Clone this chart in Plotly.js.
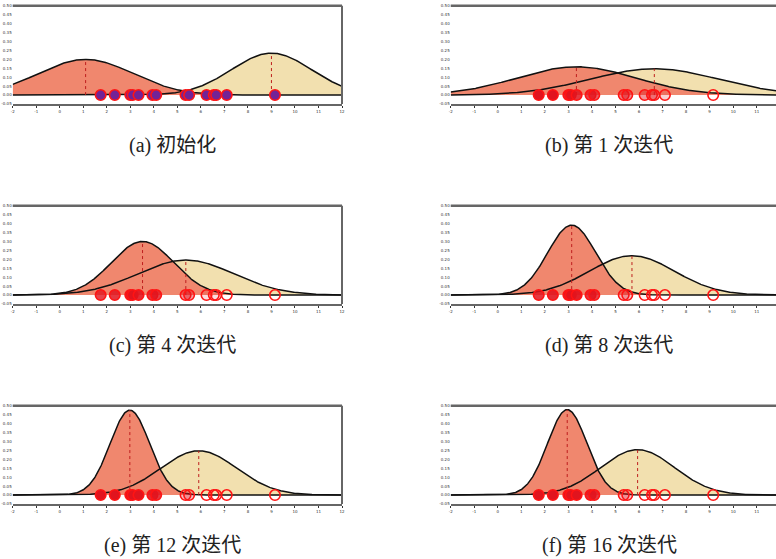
<!DOCTYPE html>
<html>
<head>
<meta charset="utf-8">
<script src="https://cdn.plot.ly/plotly-3.0.1.min.js"></script>
<style>html,body{margin:0;padding:0;background:#fff;}#chart{width:776px;height:559px;}</style>
</head>
<body>
<div id="chart"></div>
<script>
// ---- data ----
const pointsX = [1.74, 2.34, 3.0, 3.1, 3.35, 3.94, 4.1, 5.35, 5.5, 6.24, 6.55, 6.65, 7.1, 9.15];
const captions = ["(a) 初始化", "(b) 第 1 次迭代", "(c) 第 4 次迭代", "(d) 第 8 次迭代", "(e) 第 12 次迭代", "(f) 第 16 次迭代"];
const redMeans  = [1.10, 3.34, 3.52, 3.14, 2.98, 2.95];
const redSigmas = [2.00, 2.52, 1.33, 1.02, 0.84, 0.835];
const tanMeans  = [9.00, 6.65, 5.36, 5.70, 5.91, 5.94];
const tanSigmas = [1.70, 2.71, 2.04, 1.81, 1.61, 1.57];
// responsibility of the red component for each point (null = not yet assigned)
const respA = null;
const respB = [1, 1, 0.9, 0.9, 0.85, 0.8, 0.7, 0.55, 0.5, 0.45, 0.4, 0.35, 0.2, 0];
const respC = [0.8, 0.85, 0.95, 0.95, 0.9, 0.85, 0.8, 0.45, 0.4, 0.15, 0.1, 0.05, 0, 0];
const respD = [0.85, 0.9, 0.95, 0.95, 0.95, 0.85, 0.8, 0.3, 0.25, 0.05, 0, 0, 0, 0];
const respE = [1, 1, 1, 1, 1, 0.9, 0.85, 0.3, 0.25, 0, 0, 0, 0, 0];
const respF = [1, 1, 1, 1, 1, 0.9, 0.85, 0.3, 0.25, 0, 0, 0, 0, 0];
const resps = [respA, respB, respC, respD, respE, respF];
const yTickVals = [-0.05, 0, 0.05, 0.10, 0.15, 0.20, 0.25, 0.30, 0.35, 0.40, 0.45, 0.50];
const xTickVals = [-2, -1, 0, 1, 2, 3, 4, 5, 6, 7, 8, 9, 10, 11, 12];

// ---- drawing ----
function pdf(x, m, s) { return Math.exp(-(x - m) * (x - m) / (2 * s * s)) / (s * Math.sqrt(2 * Math.PI)); }
const grid = [];
for (let i = 0; i <= 560; i++) grid.push(-2 + i * 0.025);

const W = 776, H = 559;
const colL = [12.7 / W, 342 / W], colR = [450.7 / W, 1];
const rows = [[1 - 104 / H, 1 - 5.7 / H], [1 - 304 / H, 1 - 205.7 / H], [1 - 504 / H, 1 - 405.7 / H]];
const capY = [145, 346, 545];
const capX = [172, 609];

const RED_FILL = "rgb(240,135,110)";
const TAN_FILL = "rgb(242,224,175)";
const traces = [];
const layout = {
  width: W, height: H, margin: {l: 0, r: 0, t: 0, b: 0},
  paper_bgcolor: "#fff", plot_bgcolor: "#fff", showlegend: false,
  shapes: [], annotations: []
};

for (let p = 0; p < 6; p++) {
  const row = Math.floor(p / 2), col = p % 2;
  const sfx = p === 0 ? "" : String(p + 1);
  const xa = "x" + sfx, ya = "y" + sfx;
  const redY = grid.map(x => pdf(x, redMeans[p], redSigmas[p]));
  const tanY = grid.map(x => pdf(x, tanMeans[p], tanSigmas[p]));
  traces.push({x: grid, y: tanY, xaxis: xa, yaxis: ya, mode: "lines", fill: "tozeroy",
    fillcolor: TAN_FILL, line: {width: 0, color: TAN_FILL}, hoverinfo: "skip"});
  traces.push({x: grid, y: redY, xaxis: xa, yaxis: ya, mode: "lines", fill: "tozeroy",
    fillcolor: RED_FILL, line: {width: 0, color: RED_FILL}, hoverinfo: "skip"});
  traces.push({x: grid, y: tanY, xaxis: xa, yaxis: ya, mode: "lines", line: {width: 1.5, color: "#111"}});
  traces.push({x: grid, y: redY, xaxis: xa, yaxis: ya, mode: "lines", line: {width: 1.5, color: "#111"}});
  // mean lines
  [[redMeans[p], redSigmas[p]], [tanMeans[p], tanSigmas[p]]].forEach(([m, s]) => {
    traces.push({x: [m, m], y: [0, pdf(m, m, s)], xaxis: xa, yaxis: ya, mode: "lines",
      line: {width: 1, color: "rgb(190,30,30)", dash: "dot"}});
  });
  // data points
  const r = resps[p];
  const fills = r === null ? pointsX.map(() => "rgb(115,35,150)") : r.map(v => "rgba(225,20,30," + v + ")");
  traces.push({x: pointsX, y: pointsX.map(() => 0), xaxis: xa, yaxis: ya, mode: "markers",
    marker: {size: 10.5, color: fills, line: {color: "rgb(255,20,20)", width: 1.6}}, cliponaxis: false});

  const xr = col === 0 ? [-2, 12] : [-2, -2 + (776 - 450.7) / 23.54];
  layout["xaxis" + sfx] = {domain: col === 0 ? colL : colR, range: xr, anchor: ya,
    showgrid: false, zeroline: false, showline: true, linecolor: "#666", linewidth: 2,
    ticks: "outside", ticklen: 2, tickcolor: "#333", tickvals: xTickVals, ticktext: xTickVals.map(String),
    tickfont: {size: 4, color: "#333", family: "DejaVu Sans"}};
  layout["yaxis" + sfx] = {domain: rows[row], range: [-0.05, 0.5], anchor: xa,
    showgrid: false, zeroline: false, showline: false, ticks: "",
    tickvals: yTickVals, ticktext: yTickVals.map(v => v.toFixed(2)),
    tickfont: {size: 4, color: "#333", family: "DejaVu Sans"}};
  layout.shapes.push({type: "line", xref: xa + " domain", yref: ya + " domain", x0: 0, x1: 1, y0: 1, y1: 1,
    line: {color: "#666", width: 2.5}});
  if (col === 0) {
    layout.shapes.push({type: "line", xref: xa + " domain", yref: ya + " domain", x0: 1, x1: 1, y0: 0, y1: 1,
      line: {color: "#666", width: 2}});
  }
  layout.annotations.push({text: captions[p], xref: "paper", yref: "paper",
    x: capX[col] / W, y: 1 - capY[row] / H, xanchor: "center", yanchor: "middle", showarrow: false,
    font: {size: 20, color: "#222", family: "Liberation Serif, Noto Sans CJK SC, serif"}});
}

Plotly.newPlot("chart", traces, layout, {staticPlot: true});
</script>
</body>
</html>
